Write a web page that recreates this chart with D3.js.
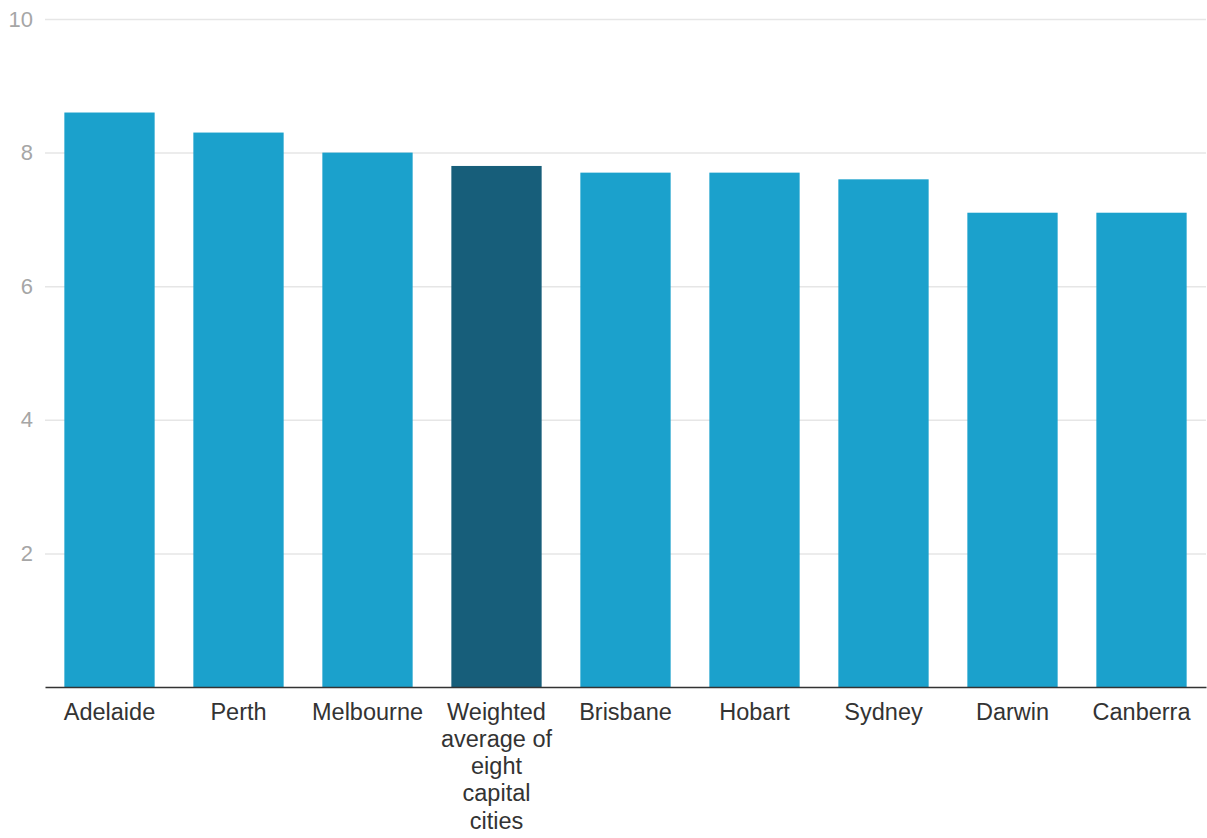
<!DOCTYPE html>
<html>
<head>
<meta charset="utf-8">
<script src="https://cdn.jsdelivr.net/npm/d3@7"></script>
<style>
  body { margin: 0; background: #fff; overflow: hidden; }
  svg { font-family: Roboto, sans-serif; display: block; }
  .axis-y .domain { display: none; }
  .axis-y line { stroke: #e6e6e6; stroke-width: 1.5; }
  .axis-y text { fill: #a6a6a6; font-size: 22px; }
  .axis-x .domain { stroke: #333; stroke-width: 1.5; }
  .axis-x line { display: none; }
  .axis-x text { fill: #333; font-size: 23.5px; }
</style>
</head>
<body>
<div id="chart"></div>
<script>
const cities = ['Adelaide', 'Perth', 'Melbourne', 'Weighted average of eight capital cities',
  'Brisbane', 'Hobart', 'Sydney', 'Darwin', 'Canberra']
const values = [8.6, 8.3, 8.0, 7.8, 7.7, 7.7, 7.6, 7.1, 7.1]
const yTicks = [2, 4, 6, 8, 10]
const highlight = 'Weighted average of eight capital cities'

const data = cities.map((c, i) => ({ city: c, value: values[i] }))

const W = 1207
const H = 838
const margin = { t: 19, r: 1, b: 151, l: 45 }
const innerWidth = W - margin.l - margin.r
const innerHeight = H - margin.t - margin.b

const scaleX = d3.scaleBand()
  .domain(cities)
  .range([0, innerWidth])
  .paddingInner(0.3)
  .paddingOuter(0.15)

const scaleY = d3.scaleLinear().domain([0, 10]).range([innerHeight, 0])

const svg = d3.select('#chart')
  .append('svg')
  .attr('width', W)
  .attr('height', H)

const plot = svg.append('g')
  .attr('class', 'plot')
  .attr('transform', `translate(${margin.l}, ${margin.t})`)

const axisY = d3.axisLeft()
  .scale(scaleY)
  .tickValues(yTicks)
  .tickSize(-innerWidth)
  .tickPadding(12)

plot.append('g')
  .attr('class', 'axis axis-y')
  .call(axisY)

plot.selectAll('.bar')
  .data(data)
  .enter()
  .append('rect')
  .attr('class', 'bar')
  .attr('x', d => scaleX(d.city))
  .attr('width', scaleX.bandwidth())
  .attr('y', d => scaleY(d.value))
  .attr('height', d => innerHeight - scaleY(d.value))
  .attr('fill', d => d.city === highlight ? '#175e7a' : '#1ba1cc')

const axisX = d3.axisBottom()
  .scale(scaleX)
  .tickSizeOuter(0)
  .tickPadding(10)

plot.append('g')
  .attr('class', 'axis axis-x')
  .attr('transform', `translate(0, ${innerHeight})`)
  .call(axisX)
  .selectAll('.tick text')
  .each(function() { wrap(this, 122) })

// split long labels into one text per line
function wrap(node, width) {
  const text = d3.select(node)
  const tick = d3.select(node.parentNode)
  const words = text.text().split(/\s+/)
  const y = +text.attr('y')
  const lines = []
  let line = []
  words.forEach(w => {
    line.push(w)
    text.text(line.join(' '))
    if (node.getComputedTextLength() > width && line.length > 1) {
      line.pop()
      lines.push(line.join(' '))
      line = [w]
    }
  })
  lines.push(line.join(' '))
  text.remove()
  lines.forEach((l, i) => {
    tick.append('text')
      .attr('fill', 'currentColor')
      .attr('x', 0)
      .attr('y', y)
      .attr('dy', (0.71 + i * 1.16) + 'em')
      .text(l)
  })
}
</script>
</body>
</html>
